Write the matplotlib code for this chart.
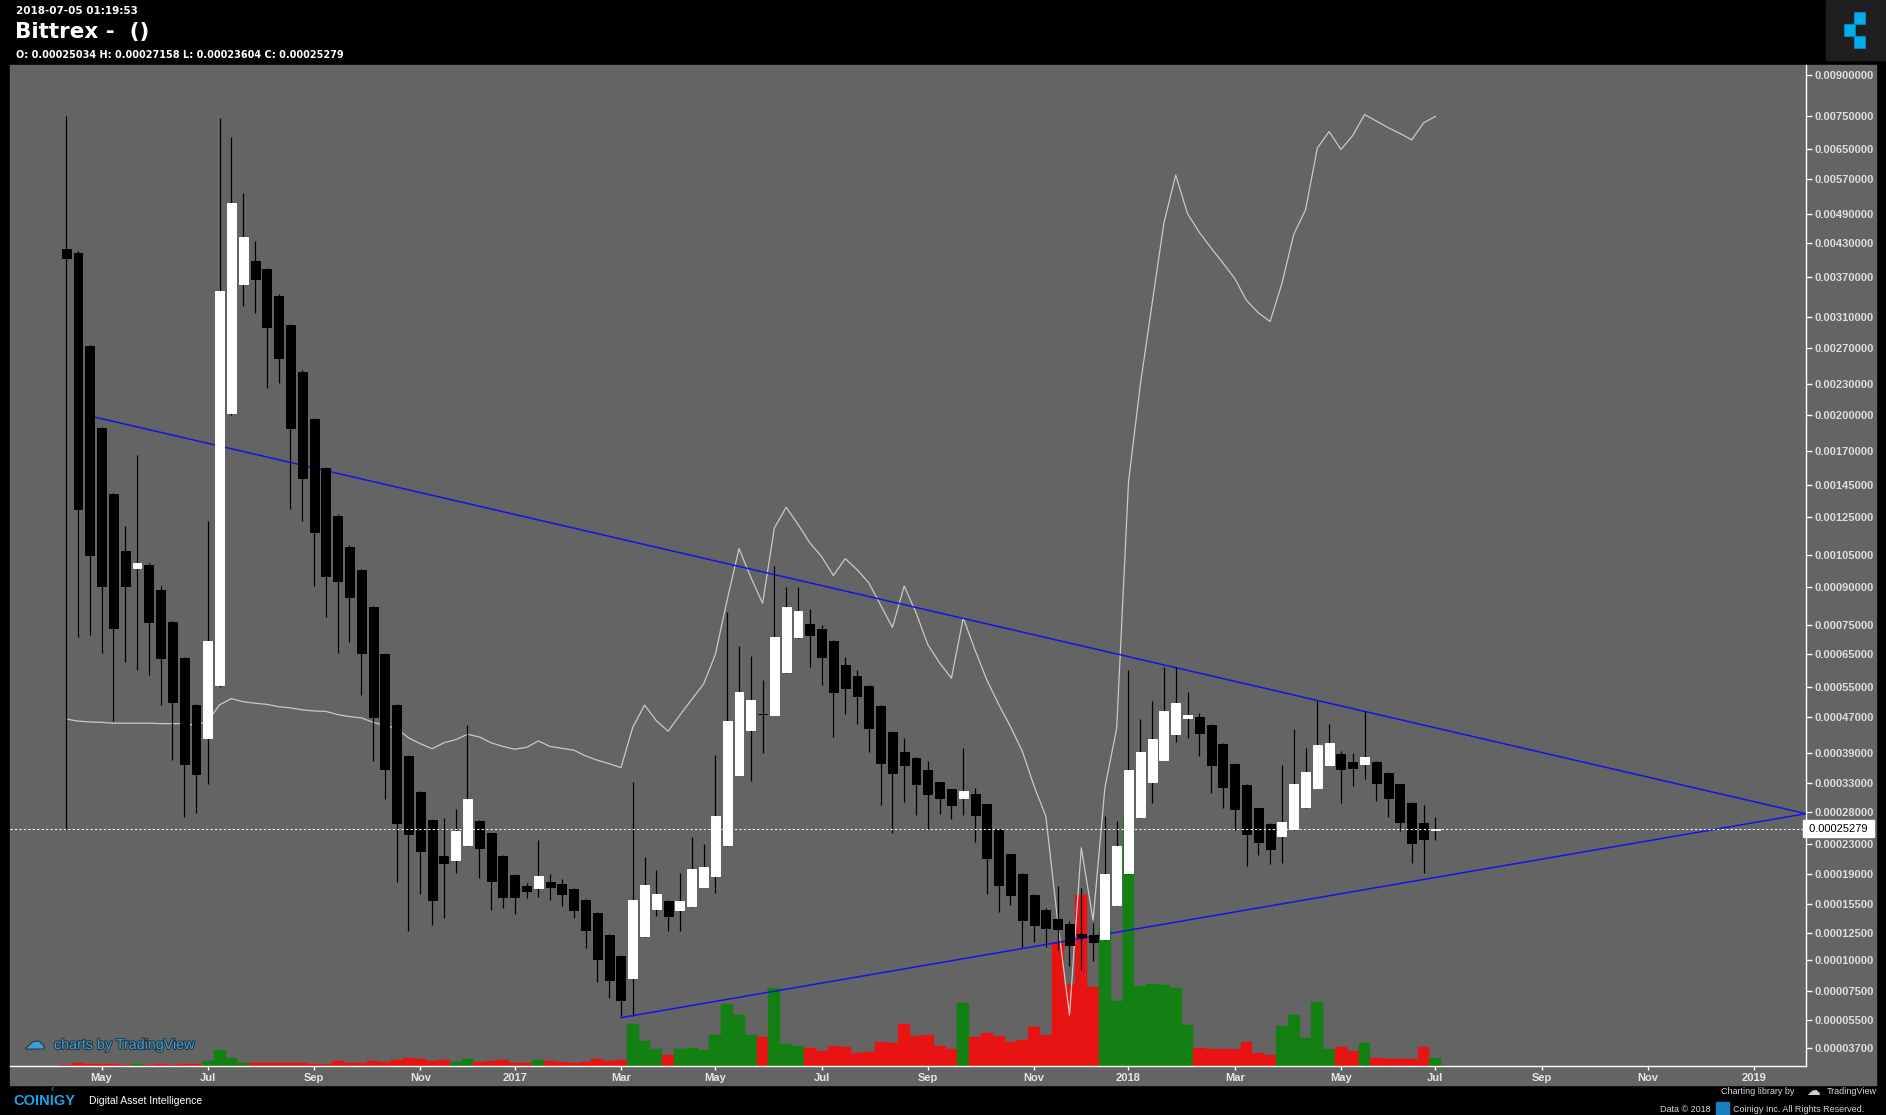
import matplotlib
matplotlib.use("Agg")
import matplotlib.pyplot as plt
import matplotlib.dates as mdates
import matplotlib.patheffects as pe
from matplotlib.patches import Rectangle
import numpy as np
import pandas as pd

W, H = 1886, 1115

# weekly candles, first bar monday 2016-04-11
first_week = "2016-04-11"

opens = [0.00419, 0.00412, 0.00272, 0.00188, 0.00139, 0.00107, 0.000983, 0.00100, 0.000885, 0.000761,
         0.000636, 0.000502, 0.000422, 0.000555, 0.00202, 0.00359, 0.00398, 0.00384, 0.00341, 0.00299,
         0.00243, 0.00196, 0.00157, 0.00126, 0.00109, 0.000975, 0.000816, 0.000648, 0.000502, 0.000382,
         0.000313, 0.000267, 0.000214, 0.000209, 0.000229, 0.000265, 0.000246, 0.000214, 0.000189, 0.000176,
         0.000173, 0.000180, 0.000178, 0.000172, 0.000160, 0.000145, 0.000123, 0.000104, 0.0000855, 0.000122,
         0.000150, 0.000158, 0.000149, 0.000153, 0.000175, 0.000188, 0.000229, 0.000345, 0.000441, 0.000478,
         0.000477, 0.000592, 0.000705, 0.000753, 0.000734, 0.000691, 0.000615, 0.000581, 0.000552, 0.000500,
         0.000436, 0.000391, 0.000379, 0.000355, 0.000331, 0.000318, 0.000303, 0.000310, 0.000292, 0.000252,
         0.000216, 0.000190, 0.000165, 0.000149, 0.000139, 0.000134, 0.000124, 0.000123, 0.000119, 0.000154,
         0.000191, 0.000271, 0.000332, 0.000375, 0.000430, 0.000468, 0.000470, 0.000452, 0.000408, 0.000366,
         0.000326, 0.000285, 0.000260, 0.000242, 0.000252, 0.000287, 0.000321, 0.000365, 0.000387, 0.000371,
         0.000367, 0.000371, 0.000349, 0.000327, 0.000295, 0.000262, 0.00025034]
highs = [0.00750, 0.00415, 0.00274, 0.00189, 0.00140, 0.00120, 0.00167, 0.00101, 0.000903, 0.000765,
         0.000640, 0.000505, 0.00123, 0.00744, 0.00686, 0.00537, 0.00434, 0.00386, 0.00343, 0.00301,
         0.00245, 0.00197, 0.00158, 0.00127, 0.00110, 0.000980, 0.000820, 0.000650, 0.000505, 0.000385,
         0.000315, 0.000268, 0.000270, 0.000284, 0.000452, 0.000266, 0.000247, 0.000215, 0.000190, 0.000179,
         0.000236, 0.000190, 0.000184, 0.000173, 0.000161, 0.000146, 0.000124, 0.000105, 0.000331, 0.000212,
         0.000195, 0.000159, 0.000191, 0.000240, 0.000231, 0.000385, 0.000796, 0.000676, 0.000643, 0.000571,
         0.000994, 0.000901, 0.000901, 0.000809, 0.000750, 0.000695, 0.000638, 0.000599, 0.000555, 0.000502,
         0.000438, 0.000421, 0.000381, 0.000372, 0.000332, 0.000319, 0.000399, 0.000321, 0.000293, 0.000253,
         0.000217, 0.000191, 0.000166, 0.000151, 0.000176, 0.000137, 0.000173, 0.000135, 0.000272, 0.000264,
         0.000599, 0.000466, 0.000512, 0.000609, 0.000609, 0.000536, 0.000481, 0.000454, 0.000410, 0.000368,
         0.000327, 0.000286, 0.000261, 0.000365, 0.000442, 0.000399, 0.000512, 0.000454, 0.000394, 0.000389,
         0.000485, 0.000372, 0.000350, 0.000328, 0.000296, 0.000291, 0.00027158]
lows = [0.000252, 0.000707, 0.000714, 0.000653, 0.000461, 0.000623, 0.000599, 0.000584, 0.000502, 0.000375,
        0.000271, 0.000277, 0.000327, 0.000550, 0.00200, 0.00325, 0.00316, 0.00226, 0.00231, 0.00130,
        0.00123, 0.000906, 0.000777, 0.000653, 0.000690, 0.000528, 0.000373, 0.000301, 0.000180, 0.000127,
        0.000166, 0.000133, 0.000140, 0.000191, 0.000228, 0.000185, 0.000149, 0.000151, 0.000144, 0.000162,
        0.000163, 0.000159, 0.000153, 0.000140, 0.000111, 0.000082, 0.000070, 0.0000576, 0.0000576, 0.000121,
        0.000142, 0.000127, 0.000127, 0.000152, 0.000174, 0.000168, 0.000228, 0.000344, 0.000334, 0.000390,
        0.000476, 0.000591, 0.000704, 0.000607, 0.000556, 0.000423, 0.000479, 0.000455, 0.000391, 0.000291,
        0.000247, 0.000296, 0.000275, 0.000253, 0.000276, 0.000268, 0.000275, 0.000233, 0.000166, 0.000146,
        0.000154, 0.000112, 0.000117, 0.000112, 0.000109, 0.0000951, 0.0000920, 0.0000993, 0.000118, 0.000153,
        0.000190, 0.000270, 0.000295, 0.000374, 0.000413, 0.000422, 0.000383, 0.000312, 0.000285, 0.000251,
        0.000201, 0.000215, 0.000203, 0.000205, 0.000251, 0.000286, 0.000320, 0.000364, 0.000295, 0.000325,
        0.000338, 0.000298, 0.000271, 0.000249, 0.000205, 0.000191, 0.00023604]
closes = [0.00403, 0.00130, 0.00105, 0.000903, 0.000738, 0.000903, 0.00101, 0.000761, 0.000636, 0.000508,
          0.000367, 0.000346, 0.000694, 0.00348, 0.00514, 0.00441, 0.00367, 0.00297, 0.00258, 0.00188,
          0.00150, 0.00117, 0.000950, 0.000925, 0.000859, 0.000653, 0.000470, 0.000357, 0.000262, 0.000245,
          0.000221, 0.000159, 0.000205, 0.000250, 0.000301, 0.000225, 0.000182, 0.000163, 0.000163, 0.000170,
          0.000188, 0.000174, 0.000166, 0.000149, 0.000128, 0.000101, 0.000084, 0.0000686, 0.000160, 0.000177,
          0.000166, 0.000142, 0.000158, 0.000197, 0.000199, 0.000272, 0.000461, 0.000536, 0.000514, 0.000478,
          0.000707, 0.000816, 0.000800, 0.000712, 0.000641, 0.000537, 0.000547, 0.000525, 0.000445, 0.000369,
          0.000348, 0.000365, 0.000327, 0.000309, 0.000303, 0.000290, 0.000315, 0.000275, 0.000211, 0.000177,
          0.000165, 0.000138, 0.000133, 0.000130, 0.000129, 0.000114, 0.000121, 0.000117, 0.000190, 0.000228,
          0.000354, 0.000392, 0.000419, 0.000486, 0.000506, 0.000477, 0.000432, 0.000364, 0.000323, 0.000284,
          0.000245, 0.000233, 0.000224, 0.000263, 0.000328, 0.000350, 0.000407, 0.000411, 0.000357, 0.000359,
          0.000381, 0.000330, 0.000302, 0.000263, 0.000232, 0.000238, 0.00025279]

volume = [0.5, 2.7, 1.7, 1.7, 1.7, 0.5, 1.7, 0.5, 1.7, 0.5,
          1.7, 1.7, 4.7, 15.7, 7.7, 2.7, 2.7, 2.7, 2.7, 2.7,
          2.7, 1.7, 1.7, 4.7, 2.7, 2.7, 4.7, 3.7, 5.7, 7.7,
          6.7, 4.7, 5.7, 3.7, 6.7, 3.7, 4.7, 5.7, 2.7, 2.7,
          5.7, 4.7, 3.7, 2.7, 3.7, 6.7, 4.7, 6.0, 41.7, 24.7,
          16.7, 10.7, 16.7, 17.7, 15.7, 30.7, 61.7, 50.7, 30.7, 28.7,
          77.7, 21.7, 19.7, 18.0, 14.7, 19.7, 18.7, 12.7, 13.7, 23.7,
          22.7, 41.7, 29.7, 30.7, 19.7, 16.7, 62.7, 28.7, 32.7, 29.7,
          23.7, 25.7, 38.7, 30.7, 122.6, 81.5, 171.0, 78.5, 139.0, 65.0,
          249.0, 80.0, 82.0, 80.6, 78.0, 41.0, 17.8, 17.0, 17.0, 17.0,
          24.0, 12.8, 11.0, 40.0, 51.0, 27.6, 64.0, 17.0, 19.0, 15.0,
          22.7, 8.0, 6.7, 6.7, 6.7, 19.0, 8.0]

# overlay comparison series (light line)
compare = [0.000466, 0.000461, 0.000459, 0.000458, 0.000456, 0.000456, 0.000456, 0.000456, 0.000455, 0.000455,
           0.000455, 0.000451, 0.000461, 0.000502, 0.000518, 0.000510, 0.000506, 0.000503, 0.000497, 0.000494,
           0.000489, 0.000486, 0.000485, 0.000477, 0.000472, 0.000469, 0.000458, 0.000451, 0.000444, 0.000422,
           0.000409, 0.000398, 0.000411, 0.000418, 0.000430, 0.000424, 0.000411, 0.000403, 0.000397, 0.000401,
           0.000415, 0.000403, 0.000399, 0.000395, 0.000383, 0.000374, 0.000367, 0.000359, 0.000446, 0.000501,
           0.000462, 0.000437, 0.000476, 0.000516, 0.000558, 0.000648, 0.000846, 0.00108, 0.000943, 0.000832,
           0.00119, 0.00131, 0.00121, 0.00111, 0.00104, 0.000951, 0.00103, 0.000978, 0.000918, 0.000825,
           0.000740, 0.000904, 0.000795, 0.000680, 0.000621, 0.000575, 0.000775, 0.000662, 0.000570, 0.000503,
           0.000448, 0.000393, 0.000324, 0.000272, 0.000137, 0.000058, 0.000225, 0.000138, 0.000321, 0.000444,
           0.00147, 0.00229, 0.00329, 0.00470, 0.00580, 0.00490, 0.00451, 0.00421, 0.00394, 0.00368,
           0.00334, 0.00316, 0.00304, 0.00360, 0.00447, 0.00498, 0.00653, 0.00702, 0.00649, 0.00690,
           0.00756, 0.00735, 0.00714, 0.00696, 0.00677, 0.00729, 0.00750]

price_ticks = [0.009, 0.0075, 0.0065, 0.0057, 0.0049, 0.0043, 0.0037, 0.0031, 0.0027, 0.0023,
               0.0020, 0.0017, 0.00145, 0.00125, 0.00105, 0.0009, 0.00075, 0.00065, 0.00055, 0.00047,
               0.00039, 0.00033, 0.00028, 0.00023, 0.00019, 0.000155, 0.000125, 0.0001, 0.000075,
               0.000055, 0.000037]

# month labels sit on the first weekly bar of the month (week index from first_week)
month_labels = ["May", "Jul", "Sep", "Nov", "2017", "Mar", "May", "Jul", "Sep", "Nov",
                "2018", "Mar", "May", "Jul", "Sep", "Nov", "2019"]
month_weeks = [3, 12, 21, 30, 38, 47, 55, 64, 73, 82, 90, 99, 108, 116, 125, 134, 143]

# trend lines: (week index, price) anchors
upper_line = [(2, 0.00199), (110, 0.000485)]
lower_line = [(47, 0.0000563), (116, 0.000186)]

timestamp = "2018-07-05 01:19:53"


def fwd(p):
    return np.log10(np.maximum(np.asarray(p) + 1e-4, 1e-12))


def inv(t):
    return 10 ** np.asarray(t) - 1e-4


plt.rcParams['font.family'] = ['Liberation Sans', 'DejaVu Sans']

fig = plt.figure(figsize=(W / 100, H / 100), dpi=100, facecolor="black")
fig.patches.append(Rectangle((10 / W, 1 - 1085 / H), 1866 / W, 1020 / H,
                             transform=fig.transFigure, color="#646464", zorder=0))

rect = [10 / W, 1 - 1066 / H, 1796 / W, 1001 / H]
vol_ax = fig.add_axes(rect)
ax = fig.add_axes(rect)
vol_ax.set_zorder(1)
ax.set_zorder(2)
ax.patch.set_visible(False)

t0 = mdates.date2num(pd.Timestamp(first_week))
x = t0 + 7 * np.arange(len(opens))
xmin, xmax = t0 - 4.76 * 7, t0 + 147.4 * 7

o, hi, lo, c = map(np.array, (opens, highs, lows, closes))
up = c > o

# volume
vol_col = np.where(up, "#138013", "#e81414")
vol_ax.bar(x, volume, width=7, color=vol_col, edgecolor=vol_col, linewidth=0.3)
vol_ax.set_xlim(xmin, xmax)
vol_ax.set_ylim(0, max(volume) * 4.02)
vol_ax.axis("off")

ax.set_yscale("function", functions=(fwd, inv))
ax.set_xlim(xmin, xmax)
ax.set_ylim(0.0000269, 0.009384)

ax.plot(x, compare, color="#c9c9c9", lw=0.9, zorder=2)


def trend(anchors, color="#1414e6"):
    (w0, p0), (w1, p1) = anchors
    xa, xb = t0 + 7 * w0, t0 + 7 * w1
    slope = (fwd(p1) - fwd(p0)) / (xb - xa)
    p_end = inv(fwd(p0) + slope * (xmax - xa))
    ax.plot([xa, xmax], [p0, p_end], color=color, lw=1.1, zorder=3)


trend(upper_line)
trend(lower_line)

body_col = np.where(up, "white", "black")
ax.vlines(x, lo, hi, color="black", lw=0.9, zorder=4)
ax.bar(x, np.abs(c - o), bottom=np.minimum(o, c), width=5.3,
       color=body_col, edgecolor=body_col, linewidth=0.7, zorder=5)

ax.axhline(closes[-1], color="white", lw=0.8, ls=(0, (2, 2)), zorder=6)

ax.yaxis.tick_right()
ax.set_yticks(price_ticks)
ax.set_yticklabels([f"{v:.8f}" for v in price_ticks])
ax.yaxis.set_minor_locator(matplotlib.ticker.NullLocator())
ax.tick_params(axis="y", colors="white", labelcolor="#dedede", labelsize=8,
               length=4, width=1, pad=2)
for t in ax.get_yticklabels():
    t.set_fontweight("bold")

ax.set_xticks(t0 + 7 * np.array(month_weeks))
ax.set_xticklabels(month_labels)
ax.tick_params(axis="x", colors="white", labelcolor="#e6e6e6", labelsize=8,
               length=3, width=1, pad=2)
for t in ax.get_xticklabels():
    t.set_fontweight("bold")

for s in ["left", "top"]:
    ax.spines[s].set_visible(False)
for s in ["right", "bottom"]:
    ax.spines[s].set_color("white")
    ax.spines[s].set_linewidth(1)

# last price tag
ax.text(1.0, closes[-1], f" {closes[-1]:.8f} ", transform=ax.get_yaxis_transform(),
        ha="left", va="center", fontsize=8, color="black", zorder=10, clip_on=False,
        bbox=dict(boxstyle="square,pad=0.3", fc="white", ec="white"))

# header
fig.text(16 / W, 1 - 11 / H, timestamp, color="white", fontsize=7.5, fontweight="bold",
         family="DejaVu Sans", va="center")
fig.text(15 / W, 1 - 32 / H, "Bittrex -  ()", color="white", fontsize=15.5, fontweight="bold",
         family="DejaVu Sans", va="center")
fig.text(16 / W, 1 - 55 / H,
         f"O: {opens[-1]:.8f} H: {highs[-1]:.8f} L: {lows[-1]:.8f} C: {closes[-1]:.8f}",
         color="white", fontsize=7, fontweight="bold", family="DejaVu Sans", va="center")

# coinigy logo top right
fig.patches.append(Rectangle((1826 / W, 1 - 60 / H), 60 / W, 60 / H,
                             transform=fig.transFigure, color="#1e1e1e", zorder=1))
for sx, sy in [(1854, 12), (1844, 24), (1854, 36)]:
    fig.patches.append(Rectangle((sx / W, 1 - (sy + 11.5) / H), 10.5 / W, 11.5 / H,
                                 transform=fig.transFigure, fc="#00aeef", ec="#0a86c0",
                                 lw=0.6, zorder=2))

# watermark
fig.text(35 / W, 1 - 1043 / H, "\u2601", color="#3c9fd6", fontsize=14, family="DejaVu Sans",
         ha="center", va="center",
         path_effects=[pe.withStroke(linewidth=1.5, foreground="#263640")])
fig.text(54 / W, 1 - 1045 / H, "charts by TradingView", color="#3c9fd6", fontsize=10.3,
         va="center", path_effects=[pe.withStroke(linewidth=1.5, foreground="#263640")])

# footer
fig.text(52 / W, 1 - 1089 / H, "\u2039", color="#1aa3e8", fontsize=7, ha="center", va="center")
fig.text(13 / W, 1 - 1101 / H, "COINIGY", color="#1aa3e8", fontsize=10.5, fontweight="bold",
         va="center")
fig.text(89 / W, 1 - 1101 / H, "Digital Asset Intelligence", color="white", fontsize=7.5,
         va="center")
fig.text(1794 / W, 1 - 1092 / H, "Charting library by", color="#d6d6d6", fontsize=6.5,
         ha="right", va="center")
fig.text(1813 / W, 1 - 1091 / H, "\u2601", color="#cfcfcf", fontsize=10, family="DejaVu Sans",
         ha="center", va="center")
fig.text(1827 / W, 1 - 1092 / H, "TradingView", color="#d6d6d6", fontsize=6.5, va="center")
fig.text(1711 / W, 1 - 1109 / H, "Data \u00a9 2018", color="#d6d6d6", fontsize=6.5,
         ha="right", va="center")
fig.patches.append(Rectangle((1716 / W, 1 - 1116 / H), 13 / W, 14 / H,
                             transform=fig.transFigure, color="#1a7fc1", zorder=1))
fig.text(1733 / W, 1 - 1109 / H, "Coinigy Inc. All Rights Reserved.", color="#d6d6d6",
         fontsize=6.5, va="center")

fig.savefig("out.png", dpi=100, facecolor="black")
